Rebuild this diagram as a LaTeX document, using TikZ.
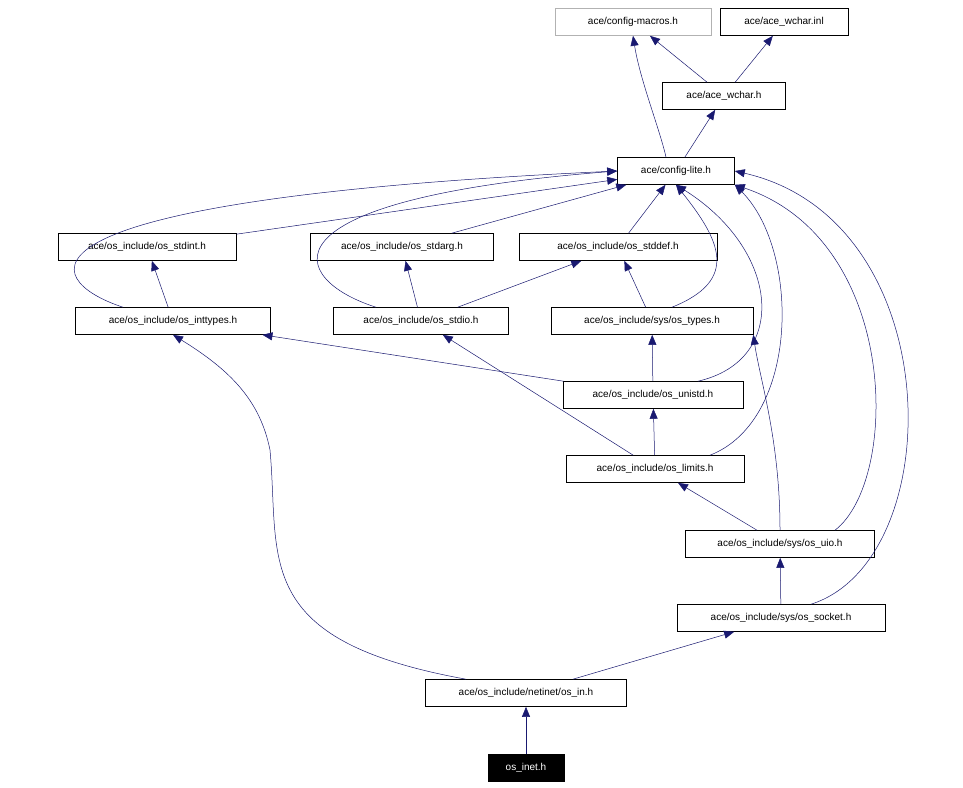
\documentclass[tikz,border=0pt]{standalone}
\usepackage{fontspec}
\setmainfont{Liberation Sans}
\usetikzlibrary{arrows.meta}
\definecolor{edge}{HTML}{191970}
\begin{document}
\begin{tikzpicture}[x=1pt,y=-1pt,
  box/.style={draw=black,fill=white,inner sep=0pt,minimum height=27pt,font=\fontsize{10}{12}\selectfont,line width=0.6pt},
  e/.style={draw=edge,line width=0.5pt,-{Triangle[length=10pt,width=8pt]}}]
\useasboundingbox (0,0) rectangle (963,787);
\node[box,draw=gray!60,minimum width=156pt] (cm) at (633,22) {ace/config-macros.h};
\node[box,minimum width=128pt] (wi) at (784,22) {ace/ace\_wchar.inl};
\node[box,minimum width=123pt] (wh) at (724,96) {ace/ace\_wchar.h};
\node[box,minimum width=117pt] (cl) at (676,171) {ace/config-lite.h};
\node[box,minimum width=178pt] (si) at (147,247) {ace/os\_include/os\_stdint.h};
\node[box,minimum width=183pt] (sa) at (402,247) {ace/os\_include/os\_stdarg.h};
\node[box,minimum width=198pt] (sd) at (618,247) {ace/os\_include/os\_stddef.h};
\node[box,minimum width=195pt] (it) at (173,321) {ace/os\_include/os\_inttypes.h};
\node[box,minimum width=175pt] (so) at (421,321) {ace/os\_include/os\_stdio.h};
\node[box,minimum width=202pt] (ty) at (652,321) {ace/os\_include/sys/os\_types.h};
\node[box,minimum width=180pt] (un) at (653,395) {ace/os\_include/os\_unistd.h};
\node[box,minimum width=178pt] (li) at (655,469) {ace/os\_include/os\_limits.h};
\node[box,minimum width=189pt] (ui) at (780,544) {ace/os\_include/sys/os\_uio.h};
\node[box,minimum width=208pt] (sk) at (781,618) {ace/os\_include/sys/os\_socket.h};
\node[box,minimum width=201pt] (in) at (526,693) {ace/os\_include/netinet/os\_in.h};
\node[box,fill=black,text=white,minimum width=76pt] (ie) at (526,768) {os\_inet.h};

\draw[e] (wh) -- (cm);
\draw[e] (wh) -- (wi);
\draw[e] (cl.north) ++(-10,0) .. controls (660,130) and (640,80) .. (cm.south);
\draw[e] (cl) -- (wh);
\draw[e] (si) -- (cl);
\draw[e] (it.north) ++(-50,0) .. controls (40,280) and (-10,200) .. (cl.west);
\draw[e] (it) -- (si);
\draw[e] (sa) -- (cl);
\draw[e] (so.north) ++(-45,0) .. controls (290,280) and (250,200) .. (cl.west);
\draw[e] (so) -- (sa);
\draw[e] (so) -- (sd);
\draw[e] (sd) -- (cl);
\draw[e] (ty.north) ++(20,0) .. controls (740,280) and (720,240) .. (cl.south);
\draw[e] (ty) -- (sd);
\draw[e] (un) -- (it);
\draw[e] (un) -- (ty);
\draw[e] (un.north) ++(45,0) .. controls (790,360) and (780,250) .. (cl.south);
\draw[e] (li) -- (so);
\draw[e] (li) -- (un);
\draw[e] (li.north) ++(55,0) .. controls (800,420) and (800,250) .. (cl.south east);
\draw[e] (ui) -- (li);
\draw[e] (ui.north) .. controls (780,440) and (760,380) .. (ty.south east);
\draw[e] (ui.north) ++(55,0) .. controls (900,480) and (900,240) .. (cl.south east);
\draw[e] (sk) -- (ui);
\draw[e] (sk.north) ++(30,0) .. controls (950,560) and (950,220) .. (cl.east);
\draw[e] (in) -- (sk);
\draw[e] (in.north) ++(-60,0) .. controls (250,640) and (280,560) .. (270,450) .. controls (260,400) and (230,370) .. (it.south);
\draw[e] (ie) -- (in);
\end{tikzpicture}
\end{document}
